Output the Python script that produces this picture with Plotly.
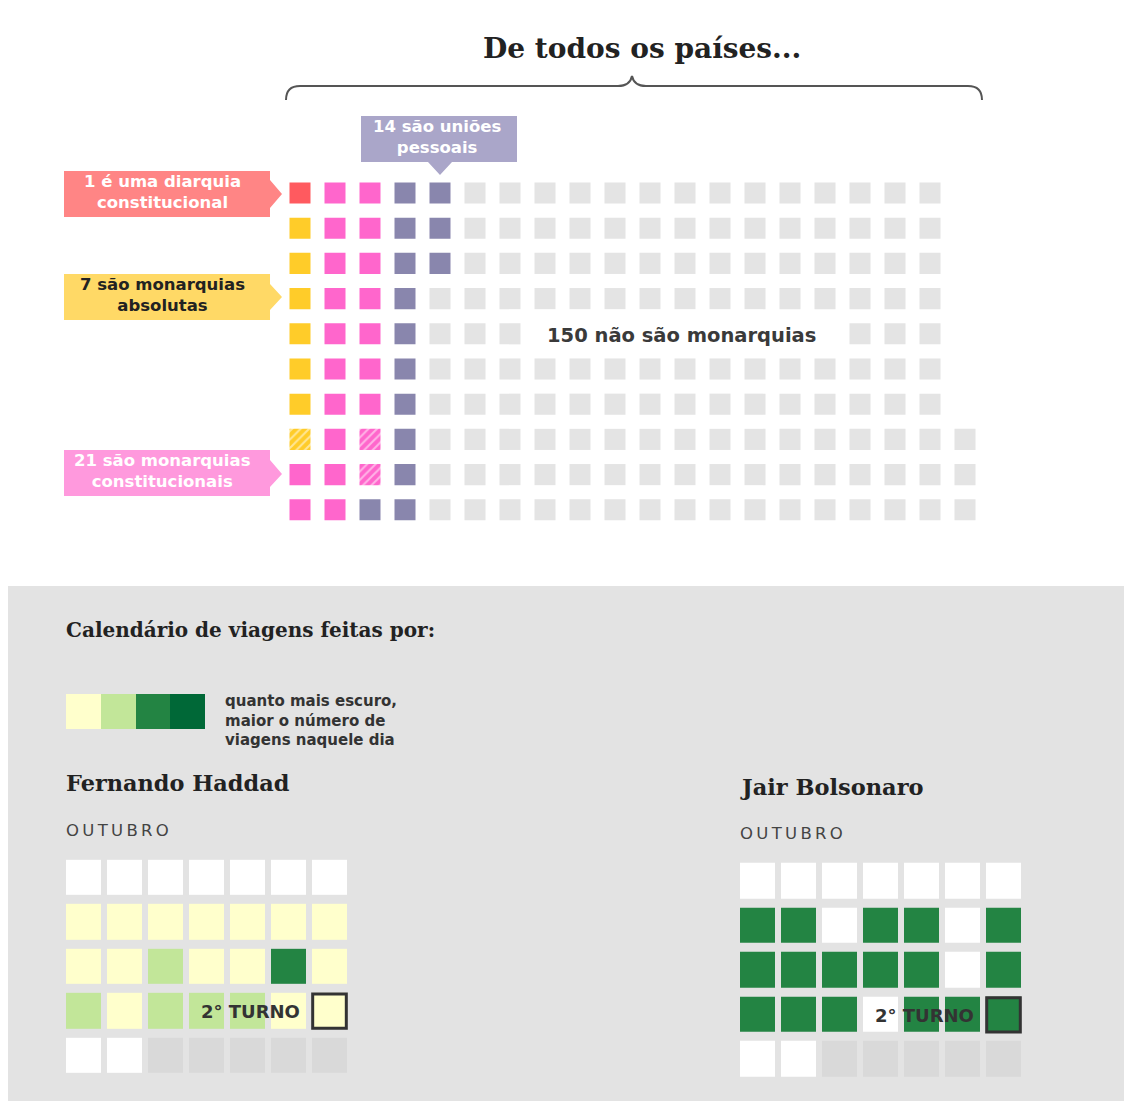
import plotly.graph_objects as go

# a página tem 8px de margem no body: a figura começa em (8, 8)
OX, OY = 8, 8
W, H = 1124, 1093


def px(x):
    return (x - OX) / W


def py(y):
    return 1 - (y - OY) / H


def caminho(pontos, fechar=True):
    # pontos em pixels da página -> path em coordenadas paper (um par por comando)
    partes = []
    for cmd, *coords in pontos:
        if cmd == "Q":
            partes.append(f"Q {px(coords[0]):.5f},{py(coords[1]):.5f} {px(coords[2]):.5f},{py(coords[3]):.5f}")
        else:
            for i in range(0, len(coords), 2):
                partes.append(f"{cmd} {px(coords[i]):.5f},{py(coords[i + 1]):.5f}")
    return " ".join(partes) + (" Z" if fechar else "")


# --- dados do waffle (países) ---
categorias = ["diarquia constitucional", "monarquia absoluta", "monarquia constitucional",
              "união pessoal", "não é monarquia"]
quantidades = [1, 7, 21, 14, 150]
hachurados = [0, 1, 2, 0, 0]
cores_waffle = ["#ff5a5f", "#ffcc29", "#ff66cc", "#8986ad", "#e4e4e4"]
linhas_waffle = 10

# --- dados dos calendários (outubro) ---
dias_semana = ["seg", "ter", "qua", "qui", "sex", "sáb", "dom"]
haddad_viagens = [0, 0, 0, 0, 0, 0, 0,
                  1, 1, 1, 1, 1, 1, 1,
                  1, 1, 2, 1, 1, 3, 1,
                  2, 1, 2, 2, 2, 1, 1,
                  0, 0]
bolsonaro_viagens = [0, 0, 0, 0, 0, 0, 0,
                     3, 3, 0, 3, 3, 0, 3,
                     3, 3, 3, 3, 3, 0, 3,
                     3, 3, 3, 0, 3, 3, 3,
                     0, 0]
dia_segundo_turno = 28
niveis = [-1, 0, 1, 2, 3, 4]
cores_niveis = ["#d9d9d9", "#ffffff", "#ffffcc", "#c2e699", "#238443", "#006837"]
legenda_niveis = [1, 2, 3, 4]

SANS = "DejaVu Sans"
SERIF = "DejaVu Serif"

fig = go.Figure()

# waffle: ordem coluna a coluna, última coluna alinhada embaixo
sequencia = []
for c, (n, h) in enumerate(zip(quantidades, hachurados)):
    for k in range(n):
        sequencia.append((c, k >= n - h))
total = len(sequencia)
cheias = total // linhas_waffle * linhas_waffle

grupos = {}
for i, (c, hach) in enumerate(sequencia):
    if i < cheias:
        col, lin = i // linhas_waffle, i % linhas_waffle
    else:
        col, lin = cheias // linhas_waffle, linhas_waffle - (total - i)
    grupos.setdefault((c, hach), []).append((col, lin))

lado = 0.6
for (c, hach), pos in grupos.items():
    marker = dict(color=cores_waffle[c], line=dict(width=0))
    if hach:
        marker["pattern"] = dict(shape="/", fgcolor="white", bgcolor=cores_waffle[c],
                                 size=6, solidity=0.35, fillmode="overlay")
    fig.add_trace(go.Bar(
        x=[p[0] for p in pos], y=[lado] * len(pos), base=[p[1] - lado / 2 for p in pos],
        width=lado, marker=marker, name=categorias[c],
        xaxis="x", yaxis="y", hoverinfo="skip", showlegend=False))

# escala discreta para os calendários
escala = []
for k, cor in enumerate(cores_niveis):
    escala += [[k / len(cores_niveis), cor], [(k + 1) / len(cores_niveis), cor]]


def grade(viagens):
    cel = viagens + [-1] * (35 - len(viagens))
    return [cel[r * 7:(r + 1) * 7] for r in range(5)]


for viagens, eixo in [(haddad_viagens, "2"), (bolsonaro_viagens, "3")]:
    fig.add_trace(go.Heatmap(
        z=grade(viagens), x=list(range(7)), y=list(range(5)),
        colorscale=escala, zmin=niveis[0] - 0.5, zmax=niveis[-1] + 0.5,
        showscale=False, xgap=6, ygap=9, hoverinfo="skip",
        xaxis="x" + eixo, yaxis="y" + eixo))

fig.add_trace(go.Heatmap(
    z=[legenda_niveis], colorscale=escala, zmin=niveis[0] - 0.5, zmax=niveis[-1] + 0.5,
    showscale=False, hoverinfo="skip", xaxis="x4", yaxis="y4"))


def eixo(dom, rng, anchor):
    return dict(domain=dom, range=rng, visible=False, fixedrange=True, anchor=anchor)


def rotulo(pts, cor):
    return dict(type="path", xref="paper", yref="paper", fillcolor=cor, line_width=0,
                path=caminho([("M",) + tuple(pts[0])] + [("L",) + tuple(p) for p in pts[1:]]))


shapes = [
    # fundo cinza do painel de baixo
    dict(type="rect", xref="paper", yref="paper", x0=0, x1=1, y0=0, y1=py(586),
         fillcolor="#e3e3e3", line_width=0, layer="below"),
    # chave
    dict(type="path", xref="paper", yref="paper", line=dict(color="#555555", width=2),
         path=caminho([("M", 286, 100), ("Q", 286, 86, 300, 86), ("L", 618, 86),
                       ("Q", 630, 86, 632, 76), ("Q", 634, 86, 646, 86), ("L", 968, 86),
                       ("Q", 982, 86, 982, 100)], fechar=False)),
    # rótulos com setas
    rotulo([(64, 171), (270, 171), (270, 180), (282, 194), (270, 208), (270, 217), (64, 217)], "#ff8585"),
    rotulo([(64, 274), (270, 274), (270, 284), (282, 297), (270, 310), (270, 320), (64, 320)], "#ffd966"),
    rotulo([(64, 450), (270, 450), (270, 460), (282, 474), (270, 487), (270, 496), (64, 496)], "#ff99dd"),
    rotulo([(361, 116), (517, 116), (517, 162), (452, 162), (440, 175), (428, 162), (361, 162)], "#aaa6c9"),
    # fundo branco do texto "150 não são monarquias"
    dict(type="rect", xref="x", yref="y", x0=6.65, x1=15.4, y0=3.6, y1=4.4,
         fillcolor="white", line_width=0, layer="above"),
]

# moldura do dia do 2º turno
idx = dia_segundo_turno - 1
for e in ["2", "3"]:
    shapes.append(dict(type="rect", xref="x" + e, yref="y" + e,
                       x0=idx % 7 - 0.41, x1=idx % 7 + 0.41, y0=idx // 7 - 0.385, y1=idx // 7 + 0.385,
                       line=dict(color="#333333", width=3), fillcolor="rgba(0,0,0,0)", layer="above"))

anot = []


def texto(t, x, y, size, color="#222222", family=SANS, weight="bold", xanchor="center", **kw):
    anot.append(dict(text=t, x=px(x), y=py(y), xref="paper", yref="paper", showarrow=False,
                     xanchor=xanchor, yanchor="middle",
                     font=dict(size=size, color=color, family=family, weight=weight), **kw))


texto("De todos os países...", 642, 48, 28, family=SERIF)
texto("1 é uma diarquia<br>constitucional", 162, 192, 16.5, "white")
texto("7 são monarquias<br>absolutas", 162, 295, 16.5, "#222222")
texto("21 são monarquias<br>constitucionais", 162, 471, 16.5, "white")
texto("14 são uniões<br>pessoais", 437, 137, 16.5, "white")
texto("150 não são monarquias", 681, 335, 19.5, "#3a3a3a")

texto("Calendário de viagens feitas por:", 64, 630, 20, family=SERIF, xanchor="left")
texto("quanto mais escuro,<br>maior o número de<br>viagens naquele dia", 223, 720, 15,
      "#333333", xanchor="left", align="left")
texto("Fernando Haddad", 64, 783, 22.4, family=SERIF, xanchor="left")
texto("Jair Bolsonaro", 738, 787, 22.5, family=SERIF, xanchor="left")
texto("O\u2009U\u2009T\u2009U\u2009B\u2009R\u2009O", 64, 830, 16.5, "#444444", weight="normal", xanchor="left")
texto("O\u2009U\u2009T\u2009U\u2009B\u2009R\u2009O", 738, 833, 16.5, "#444444", weight="normal", xanchor="left")
texto("2° TURNO", 302, 1011, 18, "#333333", xanchor="right")
texto("2° TURNO", 976, 1015, 18, "#333333", xanchor="right")

fig.update_layout(
    width=W, height=H, margin=dict(l=0, r=0, t=0, b=0),
    paper_bgcolor="white", plot_bgcolor="rgba(0,0,0,0)",
    barmode="overlay", showlegend=False,
    xaxis=eixo([px(282.5), px(982.5)], [-0.5, 19.5], "y"),
    yaxis=eixo([py(527.4), py(175.4)], [9.5, -0.5], "x"),
    xaxis2=eixo([px(63), px(350)], [-0.5, 6.5], "y2"),
    yaxis2=eixo([py(1077.8), py(855.8)], [4.5, -0.5], "x2"),
    xaxis3=eixo([px(737), px(1024)], [-0.5, 6.5], "y3"),
    yaxis3=eixo([py(1081.7), py(858.7)], [4.5, -0.5], "x3"),
    xaxis4=eixo([px(66), px(205)], [-0.5, 3.5], "y4"),
    yaxis4=eixo([py(729), py(694)], [-0.5, 0.5], "x4"),
    shapes=shapes, annotations=anot,
)

fig.write_html("out.html")
